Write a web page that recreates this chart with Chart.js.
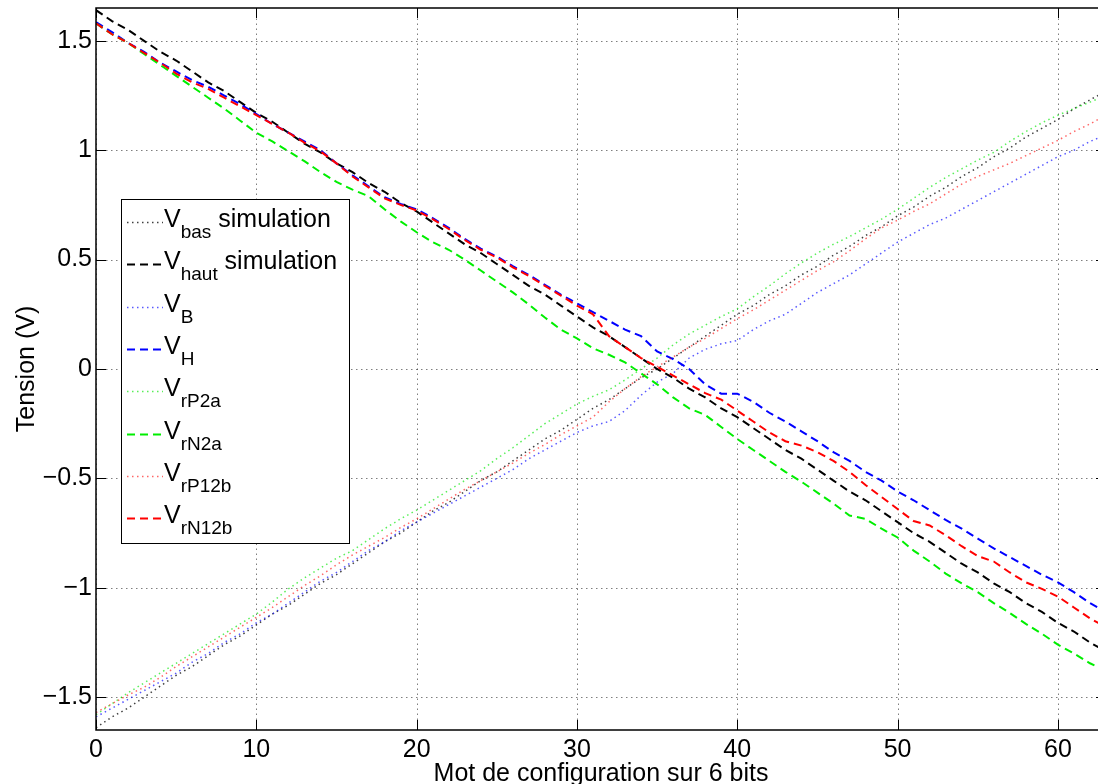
<!DOCTYPE html>
<html>
<head>
<meta charset="utf-8">
<script src="https://cdn.jsdelivr.net/npm/chart.js@4.4.0/dist/chart.umd.min.js"></script>
<style>
  body { margin: 0; background: #fff; }
  #wrap { width: 1098px; height: 784px; overflow: hidden; position: relative; }
  canvas { position: absolute; left: 0; top: 0; }
</style>
</head>
<body>
<div id="wrap"><canvas id="c" width="1110" height="784"></canvas></div>
<script>
// mot de configuration (x)
const motConfig = [0,1,2,3,4,5,6,7,8,9,10,11,12,13,14,15,16,17,18,19,20,21,22,23,24,25,26,27,28,29,30,31,
  32,33,34,35,36,37,38,39,40,41,42,43,44,45,46,47,48,49,50,51,52,53,54,55,56,57,58,59,60,61,62,63];

const xTicks = [0, 10, 20, 30, 40, 50, 60];
const xTickLabels = ['0', '10', '20', '30', '40', '50', '60'];
const yTicks = [-1.5, -1, -0.5, 0, 0.5, 1, 1.5];
const yTickLabels = ['\u22121.5', '\u22121', '\u22120.5', '0', '0.5', '1', '1.5'];

// tensions (V)
const vBasSim = [-1.64,-1.59,-1.55,-1.50,-1.45,-1.40,-1.36,-1.31,-1.26,-1.22,
  -1.17,-1.12,-1.08,-1.03,-0.98,-0.94,-0.89,-0.84,-0.79,-0.75,
  -0.70,-0.65,-0.61,-0.56,-0.51,-0.47,-0.42,-0.37,-0.32,-0.28,
  -0.23,-0.18,-0.14,-0.09,-0.04,0.00,0.05,0.10,0.15,0.20,
  0.25,0.29,0.34,0.38,0.43,0.47,0.52,0.56,0.61,0.65,
  0.70,0.74,0.79,0.83,0.88,0.92,0.97,1.01,1.06,1.10,
  1.14,1.19,1.23,1.27];
const vHautSim = [1.64,1.59,1.55,1.50,1.45,1.41,1.36,1.31,1.27,1.22,
  1.17,1.13,1.08,1.03,0.99,0.94,0.90,0.85,0.81,0.76,
  0.72,0.67,0.62,0.57,0.53,0.48,0.43,0.38,0.34,0.29,
  0.24,0.19,0.15,0.10,0.05,0.00,-0.04,-0.09,-0.13,-0.18,
  -0.22,-0.27,-0.32,-0.37,-0.41,-0.46,-0.51,-0.56,-0.60,-0.65,
  -0.70,-0.75,-0.79,-0.84,-0.89,-0.93,-0.98,-1.02,-1.07,-1.11,
  -1.16,-1.20,-1.25,-1.29];
const vB = [-1.59,-1.55,-1.51,-1.47,-1.43,-1.39,-1.34,-1.30,-1.25,-1.21,
  -1.16,-1.12,-1.07,-1.02,-0.97,-0.93,-0.88,-0.83,-0.79,-0.74,
  -0.70,-0.66,-0.62,-0.58,-0.54,-0.50,-0.46,-0.41,-0.37,-0.33,
  -0.29,-0.26,-0.24,-0.19,-0.12,-0.06,-0.02,0.05,0.09,0.115,
  0.13,0.18,0.22,0.25,0.30,0.35,0.39,0.43,0.48,0.53,
  0.58,0.62,0.66,0.69,0.73,0.77,0.81,0.85,0.89,0.93,
  0.97,1.00,1.04,1.07];
const vH = [1.585,1.54,1.49,1.45,1.40,1.36,1.32,1.29,1.25,1.21,
  1.165,1.12,1.08,1.04,1.00,0.94,0.885,0.835,0.785,0.754,
  0.73,0.69,0.645,0.595,0.55,0.514,0.47,0.43,0.385,0.34,
  0.30,0.26,0.22,0.18,0.15,0.08,0.045,0.00,-0.07,-0.113,
  -0.113,-0.15,-0.20,-0.24,-0.285,-0.33,-0.38,-0.42,-0.47,-0.51,
  -0.56,-0.60,-0.645,-0.69,-0.73,-0.775,-0.82,-0.86,-0.90,-0.94,
  -0.975,-1.02,-1.07,-1.11];
const vRP2a = [-1.58,-1.53,-1.48,-1.435,-1.39,-1.345,-1.30,-1.255,-1.21,-1.165,
  -1.12,-1.065,-1.005,-0.955,-0.91,-0.865,-0.83,-0.78,-0.73,-0.685,
  -0.645,-0.60,-0.555,-0.51,-0.465,-0.41,-0.36,-0.305,-0.25,-0.205,
  -0.16,-0.125,-0.095,-0.05,0.00,0.05,0.11,0.16,0.20,0.24,
  0.275,0.33,0.38,0.435,0.485,0.53,0.57,0.605,0.645,0.685,
  0.73,0.78,0.83,0.875,0.915,0.955,0.99,1.04,1.085,1.125,
  1.16,1.19,1.22,1.25];
const vRN2a = [1.58,1.53,1.49,1.44,1.39,1.34,1.29,1.24,1.19,1.135,
  1.08,1.04,0.995,0.95,0.90,0.855,0.82,0.79,0.73,0.675,
  0.625,0.58,0.545,0.50,0.45,0.40,0.35,0.295,0.235,0.18,
  0.14,0.095,0.065,0.03,-0.02,-0.07,-0.13,-0.18,-0.21,-0.265,
  -0.32,-0.37,-0.42,-0.47,-0.515,-0.565,-0.615,-0.67,-0.685,-0.73,
  -0.77,-0.83,-0.88,-0.935,-0.98,-1.02,-1.07,-1.115,-1.165,-1.21,
  -1.26,-1.30,-1.345,-1.38];
const vRP12b = [-1.57,-1.53,-1.49,-1.455,-1.41,-1.36,-1.315,-1.27,-1.225,-1.18,
  -1.135,-1.09,-1.04,-0.99,-0.945,-0.895,-0.85,-0.81,-0.77,-0.725,
  -0.685,-0.64,-0.595,-0.55,-0.51,-0.47,-0.43,-0.385,-0.345,-0.30,
  -0.26,-0.22,-0.15,-0.09,-0.035,0.01,0.055,0.10,0.14,0.185,
  0.23,0.27,0.315,0.36,0.405,0.45,0.49,0.54,0.595,0.645,
  0.68,0.72,0.755,0.80,0.845,0.88,0.91,0.94,0.975,1.01,
  1.045,1.085,1.12,1.16];
const vRN12b = [1.58,1.53,1.49,1.445,1.40,1.35,1.31,1.28,1.24,1.20,
  1.16,1.12,1.08,1.035,0.995,0.94,0.88,0.83,0.78,0.75,
  0.725,0.685,0.64,0.59,0.545,0.51,0.465,0.425,0.38,0.335,
  0.29,0.25,0.15,0.10,0.05,0.01,-0.03,-0.07,-0.11,-0.14,
  -0.19,-0.24,-0.29,-0.33,-0.35,-0.38,-0.42,-0.47,-0.53,-0.585,
  -0.64,-0.695,-0.715,-0.76,-0.81,-0.855,-0.88,-0.93,-0.975,-1.005,
  -1.04,-1.09,-1.14,-1.18];

const FONT = '"Liberation Sans", Arial, Helvetica, sans-serif';
const DOT = [1.5, 3.5];
const DASH = [8, 5];

// name, sub, suffix, values, color, dash
const series = [
  ['V', 'bas', ' simulation', vBasSim, 'rgba(0,0,0,0.75)', DOT],
  ['V', 'haut', ' simulation', vHautSim, '#000000', DASH],
  ['V', 'B', '', vB, 'rgba(0,0,255,0.65)', DOT],
  ['V', 'H', '', vH, '#0000ff', DASH],
  ['V', 'rP2a', '', vRP2a, 'rgba(0,230,0,0.65)', DOT],
  ['V', 'rN2a', '', vRN2a, '#00ee00', DASH],
  ['V', 'rP12b', '', vRP12b, 'rgba(255,0,0,0.6)', DOT],
  ['V', 'rN12b', '', vRN12b, '#ff0000', DASH]
];

const datasets = series.map(function (s, k) {
  return {
    label: s[0] + s[1] + s[2],
    data: motConfig.map(function (x, i) { return { x: x, y: s[3][i] }; }),
    borderColor: s[4],
    borderWidth: s[5] === DOT ? 1.5 : 2,
    borderDash: s[5],
    pointRadius: 0,
    tension: 0,
    fill: false,
    order: series.length - k
  };
});

// grid, box, inward ticks (matlab look)
const frame = {
  id: 'frame',
  beforeDatasetsDraw(chart) {
    const ctx = chart.ctx, a = chart.chartArea;
    const xs = chart.scales.x, ys = chart.scales.y;
    ctx.save();
    ctx.strokeStyle = 'rgba(0,0,0,0.5)';
    ctx.lineWidth = 1;
    ctx.setLineDash([1.5, 3.5]);
    xTicks.forEach(function (v) {
      const px = Math.round(xs.getPixelForValue(v)) + 0.5;
      ctx.beginPath(); ctx.moveTo(px, a.bottom); ctx.lineTo(px, a.top); ctx.stroke();
    });
    yTicks.forEach(function (v) {
      const py = Math.round(ys.getPixelForValue(v)) + 0.5;
      ctx.beginPath(); ctx.moveTo(a.left, py); ctx.lineTo(a.right, py); ctx.stroke();
    });
    ctx.restore();
  },
  afterDatasetsDraw(chart) {
    const ctx = chart.ctx, a = chart.chartArea;
    const xs = chart.scales.x, ys = chart.scales.y;
    const tl = 10;
    ctx.save();
    ctx.strokeStyle = '#000';
    ctx.lineWidth = 1.5;
    ctx.setLineDash([]);
    ctx.strokeRect(a.left, a.top, a.right - a.left, a.bottom - a.top);
    ctx.lineWidth = 1;
    xTicks.forEach(function (v) {
      const px = Math.round(xs.getPixelForValue(v)) + 0.5;
      ctx.beginPath(); ctx.moveTo(px, a.bottom); ctx.lineTo(px, a.bottom - tl); ctx.stroke();
      ctx.beginPath(); ctx.moveTo(px, a.top); ctx.lineTo(px, a.top + tl); ctx.stroke();
    });
    yTicks.forEach(function (v) {
      const py = Math.round(ys.getPixelForValue(v)) + 0.5;
      ctx.beginPath(); ctx.moveTo(a.left, py); ctx.lineTo(a.left + tl, py); ctx.stroke();
      ctx.beginPath(); ctx.moveTo(a.right, py); ctx.lineTo(a.right - tl, py); ctx.stroke();
    });
    ctx.restore();
  },
  afterDraw(chart) {
    const ctx = chart.ctx, a = chart.chartArea;
    ctx.save();
    ctx.fillStyle = '#000';
    ctx.font = '25px ' + FONT;
    ctx.textAlign = 'center';
    ctx.textBaseline = 'alphabetic';
    ctx.fillText('Mot de configuration sur 6 bits', (a.left + a.right) / 2, 781);
    ctx.translate(34, (a.top + a.bottom) / 2);
    ctx.rotate(-Math.PI / 2);
    ctx.fillText('Tension (V)', 0, 0);
    ctx.restore();

    // legend
    const box = { l: 121, t: 199, r: 349, b: 543 };
    ctx.save();
    ctx.fillStyle = '#fff';
    ctx.fillRect(box.l, box.t, box.r - box.l, box.b - box.t);
    ctx.strokeStyle = '#000';
    ctx.lineWidth = 1;
    ctx.strokeRect(box.l + 0.5, box.t + 0.5, box.r - box.l, box.b - box.t);
    series.forEach(function (s, k) {
      const base = 227 + k * 42.3;
      const ly = Math.round(base - 5) + 0.5;
      ctx.strokeStyle = s[4];
      ctx.lineWidth = s[5] === DOT ? 1.5 : 2;
      ctx.setLineDash(s[5]);
      ctx.beginPath(); ctx.moveTo(127, ly); ctx.lineTo(163, ly); ctx.stroke();
      ctx.setLineDash([]);
      ctx.fillStyle = '#000';
      ctx.textAlign = 'left';
      ctx.textBaseline = 'alphabetic';
      ctx.font = '25px ' + FONT;
      let x = 164;
      ctx.fillText(s[0], x, base);
      x += ctx.measureText(s[0]).width;
      ctx.font = '19px ' + FONT;
      ctx.fillText(s[1], x, base + 11);
      x += ctx.measureText(s[1]).width;
      if (s[2]) {
        ctx.font = '25px ' + FONT;
        ctx.fillText(s[2], x, base);
      }
    });
    ctx.restore();
  }
};

new Chart(document.getElementById('c'), {
  type: 'line',
  data: { datasets: datasets },
  options: {
    responsive: false,
    animation: false,
    devicePixelRatio: 1,
    layout: { padding: { top: 8, right: 4, left: 0, bottom: 0 } },
    plugins: { legend: { display: false }, tooltip: { enabled: false } },
    scales: {
      x: {
        type: 'linear',
        min: 0,
        max: 63,
        grid: { display: false, drawTicks: false },
        border: { display: false },
        afterBuildTicks: function (s) { s.ticks = xTicks.map(function (v) { return { value: v }; }); },
        afterFit: function (s) { s.height = 54; s.paddingLeft = 0; s.paddingRight = 0; },
        ticks: {
          autoSkip: false,
          maxRotation: 0,
          padding: 5,
          color: '#000',
          font: { family: FONT, size: 25 },
          callback: function (v) { return xTickLabels[xTicks.indexOf(v)]; }
        }
      },
      y: {
        type: 'linear',
        min: -1.65,
        max: 1.65,
        grid: { display: false, drawTicks: false },
        border: { display: false },
        afterBuildTicks: function (s) { s.ticks = yTicks.map(function (v) { return { value: v }; }); },
        afterFit: function (s) { s.width = 96; s.paddingTop = 0; s.paddingBottom = 0; },
        ticks: {
          autoSkip: false,
          padding: 4,
          color: '#000',
          font: { family: FONT, size: 25 },
          callback: function (v) { return yTickLabels[yTicks.indexOf(v)]; }
        }
      }
    }
  },
  plugins: [frame]
});
</script>
</body>
</html>
